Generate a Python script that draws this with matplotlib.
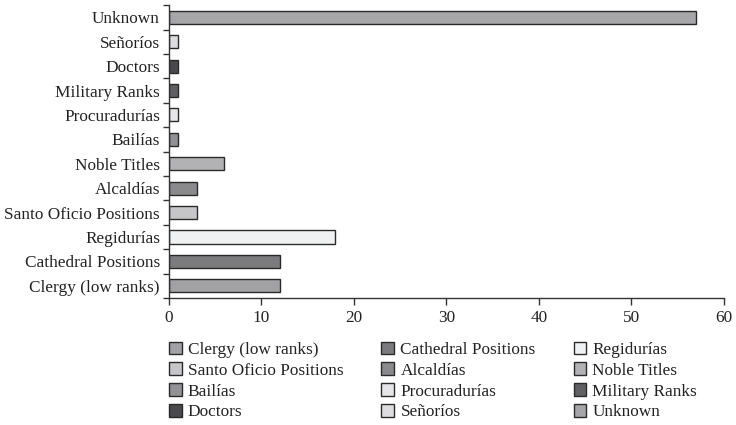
import numpy as np
import matplotlib.pyplot as plt
from matplotlib.patches import Patch

categories = [
    "Clergy (low ranks)", "Cathedral Positions", "Regidurías",
    "Santo Oficio Positions", "Alcaldías", "Noble Titles",
    "Bailías", "Procuradurías", "Military Ranks",
    "Doctors", "Señoríos", "Unknown",
]
values = [12, 12, 18, 3, 3, 6, 1, 1, 1, 1, 1, 57]
colors = [
    "#a2a2a4", "#7b7b7d", "#f0f1f2",
    "#c6c6c8", "#8a8a8c", "#b2b2b4",
    "#929294", "#e6e6e8", "#606062",
    "#4a4a4c", "#dddddf", "#a6a6a8",
]
x_ticks = [0, 10, 20, 30, 40, 50, 60]

plt.rcParams["font.family"] = ["Liberation Serif", "DejaVu Serif"]

fig = plt.figure(figsize=(7.36, 4.25), dpi=100)
ax = fig.add_axes([0.2296, 0.299, 0.754, 0.689])

y = np.arange(len(categories))
ax.barh(y, values, height=0.54, color=colors, edgecolor="#2a2a2a", linewidth=1.0)

ax.set_xlim(0, 60)
ax.set_ylim(-0.5, len(categories) - 0.5)
ax.set_xticks(x_ticks)
ax.set_yticks(y)
ax.set_yticklabels(categories)
ax.set_yticks(np.arange(-0.5, len(categories), 1.0), minor=True)
ax.tick_params(axis="y", which="major", length=0, pad=6.5, labelsize=12.4, colors="#222222")
ax.tick_params(axis="y", which="minor", length=4.5, width=1, color="#333333")
ax.tick_params(axis="x", length=5, width=1, color="#333333", labelsize=12.4,
               labelcolor="#222222", pad=4)

for side in ("top", "right"):
    ax.spines[side].set_visible(False)
for side in ("left", "bottom"):
    ax.spines[side].set_color("#333333")
    ax.spines[side].set_linewidth(1.0)

# legend reads row-wise in the original; matplotlib fills columns
order = [0, 3, 6, 9, 1, 4, 7, 10, 2, 5, 8, 11]
handles = [Patch(facecolor=colors[i], edgecolor="#2a2a2a", linewidth=1.0, label=categories[i])
           for i in order]
leg = fig.legend(handles=handles, ncol=3, loc="upper left", bbox_to_anchor=(0.2296, 0.196),
                 frameon=False, fontsize=12.4, handlelength=0.75, handleheight=0.75,
                 handletextpad=0.35, columnspacing=2.2, labelspacing=0.26,
                 borderpad=0, borderaxespad=0)
for t in leg.get_texts():
    t.set_color("#222222")

fig.savefig("out.png", dpi=100)
